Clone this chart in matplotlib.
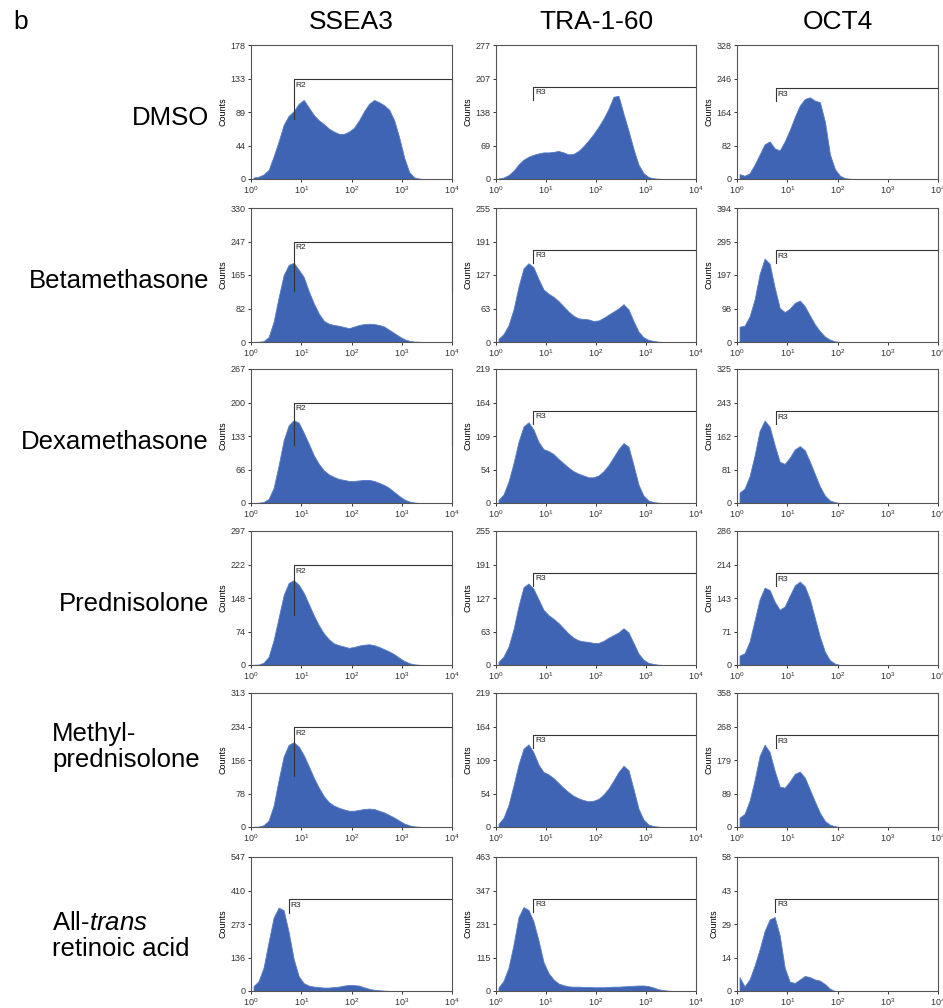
import numpy as np
import matplotlib.pyplot as plt

plt.rcParams['font.family'] = ['Liberation Sans', 'DejaVu Sans']
plt.rcParams['mathtext.fontset'] = 'custom'
plt.rcParams['mathtext.rm'] = 'Liberation Sans'
plt.rcParams['mathtext.it'] = 'Liberation Sans:italic'

markers = ['SSEA3', 'TRA-1-60', 'OCT4']
treatments = ['DMSO', 'Betamethasone', 'Dexamethasone', 'Prednisolone',
              'Methyl-\nprednisolone', 'All-$\\mathit{trans}$\nretinoic acid']

# y-axis maximum shown on each panel (rows = treatments, cols = markers)
ymax = [[178, 277, 328],
        [330, 255, 394],
        [267, 219, 325],
        [297, 255, 286],
        [313, 219, 358],
        [547, 463, 58]]

# histogram counts, one value per 0.1 decade starting at 10^0
dmso_ssea3 = [2, 3, 6, 12, 30, 50, 72, 84, 90, 100, 105, 95, 85, 78, 73, 67, 63, 60, 60, 63,
              68, 78, 90, 100, 105, 102, 98, 92, 78, 55, 28, 9, 2, 0.5]
dmso_tra = [1, 3, 8, 17, 30, 40, 46, 50, 53, 55, 55, 56, 58, 55, 51, 52, 58, 68, 80, 93,
            108, 125, 145, 170, 172, 135, 100, 62, 30, 12, 4, 1.5, 0.5]
dmso_oct4 = [12, 8, 14, 35, 60, 85, 92, 75, 70, 92, 120, 152, 180, 196, 200, 192, 188, 140, 60, 24,
             8, 2, 0.5]
beta_ssea3 = [0, 0.5, 2, 12, 50, 110, 165, 190, 195, 178, 160, 125, 95, 70, 52, 45, 42, 40, 37, 34,
              38, 42, 44, 45, 44, 42, 38, 30, 22, 14, 7, 3, 1, 0.5]
beta_tra = [6, 15, 32, 62, 105, 140, 150, 142, 120, 100, 92, 86, 78, 68, 58, 50, 45, 44, 43, 40,
            41, 46, 52, 58, 64, 72, 62, 40, 20, 9, 4, 2, 0.5]
beta_oct4 = [45, 48, 75, 125, 200, 245, 230, 160, 100, 88, 98, 115, 122, 105, 78, 52, 32, 16, 7, 2]
dexa_ssea3 = [0, 0.5, 2, 8, 30, 75, 125, 155, 165, 160, 140, 118, 95, 78, 65, 57, 52, 48, 46, 44,
              44, 45, 46, 46, 44, 40, 36, 30, 22, 14, 7, 3, 1]
dexa_tra = [5, 14, 35, 65, 100, 125, 132, 120, 100, 88, 85, 80, 72, 65, 58, 52, 48, 45, 42, 42,
            45, 52, 62, 75, 88, 98, 92, 62, 30, 12, 4, 1.5, 0.5]
dexa_oct4 = [25, 35, 65, 115, 175, 200, 185, 140, 100, 95, 110, 130, 138, 128, 100, 70, 40, 18, 6, 2]
pred_ssea3 = [0.5, 1, 5, 18, 55, 105, 155, 182, 188, 178, 160, 135, 110, 88, 70, 57, 48, 44, 41, 38,
              40, 43, 45, 46, 44, 40, 35, 30, 24, 16, 9, 4, 1.5, 0.5]
pred_tra = [6, 16, 35, 68, 112, 148, 155, 145, 125, 105, 95, 88, 80, 70, 60, 52, 47, 45, 44, 42,
            42, 46, 52, 57, 62, 70, 62, 42, 22, 10, 4, 2, 0.5]
pred_oct4 = [20, 25, 50, 95, 140, 165, 160, 135, 118, 125, 148, 170, 178, 168, 140, 100, 60, 28, 10, 3]
methyl_ssea3 = [0.5, 1, 4, 15, 50, 110, 165, 192, 198, 188, 168, 142, 115, 92, 72, 58, 50, 45, 41, 38,
                38, 40, 42, 43, 42, 38, 34, 28, 22, 15, 8, 4, 1.5, 0.5]
methyl_tra = [5, 15, 36, 68, 102, 128, 135, 122, 102, 90, 86, 80, 72, 64, 57, 51, 47, 44, 42, 43,
              46, 53, 63, 76, 90, 100, 93, 62, 30, 12, 4, 1.5, 0.5]
methyl_oct4 = [25, 35, 70, 125, 190, 220, 200, 150, 108, 105, 122, 142, 148, 132, 100, 68, 38, 16, 6, 2]
atra_ssea3 = [20, 40, 95, 200, 300, 340, 330, 240, 130, 60, 32, 22, 18, 16, 14, 14, 16, 18, 22, 25,
              24, 22, 15, 9, 5, 3, 1.5, 0.5]
atra_tra = [12, 35, 80, 160, 255, 290, 280, 240, 175, 100, 62, 40, 26, 20, 16, 15, 15, 14, 14, 13,
            13, 13, 14, 15, 15, 16, 17, 18, 19, 19, 17, 12, 6, 3, 1]
atra_oct4 = [6, 2, 5, 11, 18, 26, 31, 32, 24, 10, 4, 3.5, 5, 6.5, 6, 5, 4.5, 3, 1]

counts = [[dmso_ssea3, dmso_tra, dmso_oct4],
          [beta_ssea3, beta_tra, beta_oct4],
          [dexa_ssea3, dexa_tra, dexa_oct4],
          [pred_ssea3, pred_tra, pred_oct4],
          [methyl_ssea3, methyl_tra, methyl_oct4],
          [atra_ssea3, atra_tra, atra_oct4]]

# gates: name, lower bound, level (counts), bottom of the end marker (counts)
gate_names = [['R2', 'R3', 'R3']] * 5 + [['R3', 'R3', 'R3']]
gate_lo = [[7.1, 5.6, 5.9],
           [7.2, 5.6, 5.9],
           [7.2, 5.6, 5.9],
           [7.2, 5.6, 5.9],
           [7.2, 5.6, 5.9],
           [5.6, 5.6, 5.8]]
gate_level = [[133, 191, 223],
              [247, 176, 270],
              [200, 151, 223],
              [222, 176, 196],
              [234, 151, 246],
              [375, 319, 40]]
gate_bottom = [[80, 163, 191],
               [125, 150, 231],
               [115, 129, 191],
               [111, 150, 168],
               [120, 129, 211],
               [319, 272, 34]]

centers = 10 ** (0.05 + np.arange(40) * 0.1)
blue = '#3f64b4'

fig = plt.figure(figsize=(9.43, 10.08), dpi=100)
W, H = 943.0, 1008.0
col_left = [251, 496, 737]
col_width = [201, 200, 201]
row_top = [45, 208, 369, 531, 693, 857]
row_h = 134

for r in range(6):
    for c in range(3):
        ax = fig.add_axes([col_left[c] / W, 1 - (row_top[r] + row_h) / H,
                           col_width[c] / W, row_h / H])
        vals = np.zeros(40)
        vals[:len(counts[r][c])] = counts[r][c]
        ax.fill_between(centers, 0, vals, color=blue, lw=0.6, edgecolor='#5a7cc4')
        ax.set_xscale('log')
        ax.set_xlim(1, 1e4)
        ax.set_ylim(0, ymax[r][c])
        ax.set_xticks([1, 10, 100, 1000, 10000])
        ax.set_xticklabels(['$10^{%d}$' % k for k in range(5)])
        ax.minorticks_off()
        yt = [ymax[r][c] * k / 4 for k in range(5)]
        ax.set_yticks(yt)
        ax.set_yticklabels([str(int(np.floor(v))) for v in yt])
        ax.tick_params(labelsize=6.5, length=2.5, width=0.7, pad=1.5, colors='#333333')
        for s in ax.spines.values():
            s.set_linewidth(0.8)
            s.set_color('#555555')
        ax.set_ylabel('Counts', fontsize=6.5, labelpad=2)

        lo = gate_lo[r][c]
        lev = gate_level[r][c]
        bot = gate_bottom[r][c]
        gk = dict(color='#333333', lw=0.8, clip_on=False)
        ax.plot([lo, lo, 1e4], [bot, lev, lev], **gk)
        if gate_names[r][c] == 'R2':
            ax.plot([1e4, 1e4], [lev, bot], **gk)
        ax.text(lo * 1.08, lev - ymax[r][c] * 0.02, gate_names[r][c], fontsize=6,
                va='top', ha='left', color='#222222')

# column titles
for c, name in enumerate(markers):
    cx = (col_left[c] + col_width[c] / 2) / W
    fig.text(cx, 1 - 22 / H, name, fontsize=19, ha='center', va='center')

fig.text(13 / W, 1 - 22 / H, 'b', fontsize=19, ha='left', va='center')

# row labels
for r in range(4):
    cy = row_top[r] + row_h / 2 + 6
    fig.text(209 / W, 1 - cy / H, treatments[r], fontsize=18.5, ha='right', va='center')
fig.text(52 / W, 1 - 747 / H, treatments[4], fontsize=18.5, ha='left', va='center',
         linespacing=1.15)
fig.text(52 / W, 1 - 936 / H, treatments[5], fontsize=18.5, ha='left', va='center',
         linespacing=1.15)

fig.savefig('out.png', dpi=100)
